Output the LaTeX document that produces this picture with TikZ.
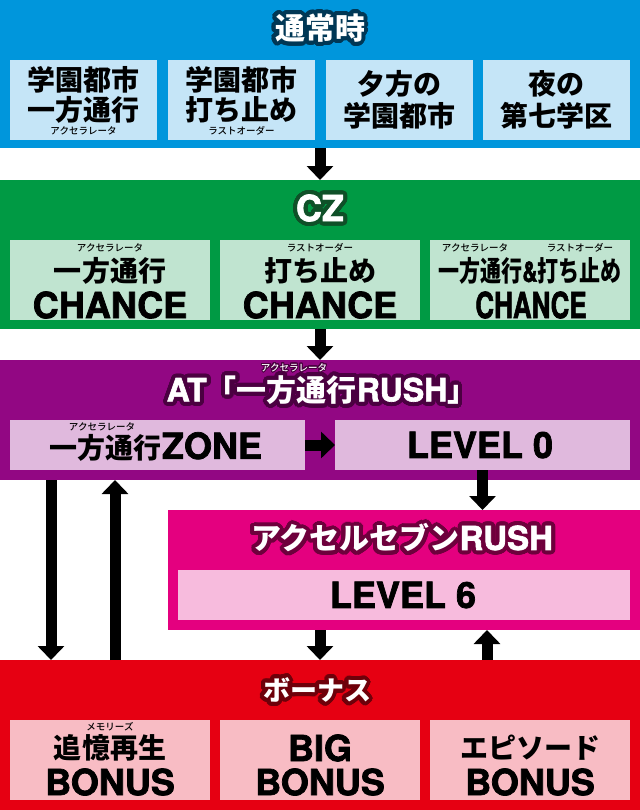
\documentclass[tikz,border=0pt]{standalone}
\usepackage{fontspec}
\newfontfamily\jp{Noto Sans CJK JP}[UprightFont=* Black]
\newfontfamily\jpm{Noto Sans CJK JP}[UprightFont=* Medium]
\newfontfamily\lat{texgyreheros-bold.otf}[FakeBold=2]
\usepackage[copies]{contour}
\contourlength{4bp}
\contournumber{32}
\usetikzlibrary{arrows.meta}
\definecolor{cBlue}{RGB}{0,150,220}
\definecolor{cBlueBox}{RGB}{197,229,247}
\definecolor{cBlueOut}{RGB}{0,55,85}
\definecolor{cGreen}{RGB}{0,154,68}
\definecolor{cGreenBox}{RGB}{192,228,208}
\definecolor{cGreenOut}{RGB}{15,80,40}
\definecolor{cPurple}{RGB}{146,7,131}
\definecolor{cPurpleBox}{RGB}{224,185,221}
\definecolor{cPurpleOut}{RGB}{75,0,65}
\definecolor{cPink}{RGB}{228,0,127}
\definecolor{cPinkBox}{RGB}{247,187,221}
\definecolor{cPinkOut}{RGB}{110,0,60}
\definecolor{cRed}{RGB}{230,0,18}
\definecolor{cRedBox}{RGB}{248,188,196}
\definecolor{cRedOut}{RGB}{110,0,10}
\tikzset{
  sec/.style={rectangle, inner sep=0pt, outer sep=0pt},
  box/.style={rectangle, inner sep=0pt, outer sep=0pt},
  jtxt/.style={inner sep=0pt, font=\jp\fontsize{28bp}{30bp}\selectfont},
  ltxt/.style={inner sep=0pt, font=\lat\fontsize{36bp}{38bp}\selectfont},
  ruby/.style={inner sep=0pt, font=\jpm\fontsize{9.5bp}{10bp}\selectfont},
  ttl/.style={inner sep=0pt, text=white, font=\jp\fontsize{30bp}{32bp}\selectfont},
  arr/.style={line width=11bp, -{Triangle[width=26bp,length=14bp]}},
}
\begin{document}
\begin{tikzpicture}[x=1bp,y=-1bp]
\useasboundingbox (0,0) rectangle (640,810);
% sections
\node[sec, fill=cBlue, minimum width=640bp, minimum height=148bp] (blue) at (320,74) {};
\node[sec, fill=cGreen, minimum width=640bp, minimum height=149bp] (green) at (320,254.5) {};
\node[sec, fill=cPurple, minimum width=640bp, minimum height=120bp] (purple) at (320,420) {};
\node[sec, fill=cPink, minimum width=472bp, minimum height=120bp] (pink) at (404,570) {};
\node[sec, fill=cRed, minimum width=640bp, minimum height=150bp] (red) at (320,735) {};
% blue boxes
\foreach \n/\x in {b1/83.5,b2/241.5,b3/399.5,b4/556.5}
  \node[box, fill=cBlueBox, minimum width=147bp, minimum height=80bp] (\n) at (\x,100) {};
% green boxes
\foreach \n/\x in {g1/110,g2/320,g3/530}
  \node[box, fill=cGreenBox, minimum width=200bp, minimum height=80bp] (\n) at (\x,280) {};
% purple boxes
\node[box, fill=cPurpleBox, minimum width=295bp, minimum height=50bp] (zone) at (157.5,445) {};
\node[box, fill=cPurpleBox, minimum width=295bp, minimum height=50bp] (lv0) at (482.5,445) {};
% pink box
\node[box, fill=cPinkBox, minimum width=452bp, minimum height=50bp] (lv6) at (404,595) {};
% red boxes
\foreach \n/\x in {r1/110,r2/320,r3/530}
  \node[box, fill=cRedBox, minimum width=200bp, minimum height=80bp] (\n) at (\x,760) {};

% titles
\node[ttl] (t1) at (320,30) {\contour{cBlueOut}{通常時}};
\node[ttl, font=\lat\fontsize{36bp}{38bp}\selectfont] (t2) at (320,210) {\contour{cGreenOut}{CZ}};
\node[ruby, text=white] (t3r) at (294,368) {\contourlength{1bp}\contour{cPurpleOut}{アクセラレータ}};
\node[ttl] (t3) at (322,392) {\contour{cPurpleOut}{{\lat\fontsize{32bp}{34bp}\selectfont AT}「一方通行{\lat\fontsize{32bp}{34bp}\selectfont RUSH}」}};
\node[ttl] (t4) at (402,540) {\contour{cPinkOut}{アクセルセブン{\lat\fontsize{33bp}{34bp}\selectfont RUSH}}};
\node[ttl, font=\jp\fontsize{27bp}{30bp}\selectfont] (t5) at (317,692) {\contour{cRedOut}{ボーナス}};

% blue texts
\node[jtxt] (b1a) at (83.5,80) {学園都市};
\node[jtxt] (b1b) at (83.5,110) {一方通行};
\node[ruby] (b1r) at (83.5,131) {アクセラレータ};
\node[jtxt] (b2a) at (241.5,80) {学園都市};
\node[jtxt] (b2b) at (241.5,110) {打ち止め};
\node[ruby] (b2r) at (241.5,131) {ラストオーダー};
\node[jtxt] (b3a) at (399.5,84) {夕方の};
\node[jtxt] (b3b) at (399.5,116) {学園都市};
\node[jtxt] (b4a) at (556.5,84) {夜の};
\node[jtxt] (b4b) at (556.5,116) {第七学区};

% green texts
\node[ruby] (g1r) at (110,248) {アクセラレータ};
\node[jtxt] (g1a) at (110,271) {一方通行};
\node[ltxt] (g1b) at (110,305) {CHANCE};
\node[ruby] (g2r) at (320,248) {ラストオーダー};
\node[jtxt] (g2a) at (320,271) {打ち止め};
\node[ltxt] (g2b) at (320,305) {CHANCE};
\node[ruby] (g3r1) at (475,248) {アクセラレータ};
\node[ruby] (g3r2) at (580,248) {ラストオーダー};
\node[jtxt] (g3a) at (530,271) {\scalebox{0.75}[1]{一方通行{\lat\&}打ち止め}};
\node[ltxt] (g3b) at (531,305) {\scalebox{0.72}[1]{CHANCE}};

% purple texts
\node[ruby] (zr) at (102,427) {アクセラレータ};
\node[jtxt] (za) at (156,447) {一方通行{\lat\fontsize{36bp}{38bp}\selectfont ZONE}};
\node[ltxt] (l0) at (480,445) {LEVEL 0};
% pink text
\node[ltxt] (l6) at (403,595) {LEVEL 6};
% red texts
\node[ruby] (r1r) at (110,727) {メモリーズ};
\node[jtxt] (r1a) at (110,748) {追憶再生};
\node[ltxt] (r1b) at (110,782) {BONUS};
\node[ltxt] (r2a) at (320,748) {BIG};
\node[ltxt] (r2b) at (320,782) {BONUS};
\node[jtxt] (r3a) at (530,748) {エピソード};
\node[ltxt] (r3b) at (530,782) {BONUS};

% arrows
\coordinate (lx1) at (51,0);
\coordinate (lx2) at (115,0);
\coordinate (rx) at (487,0);
\draw[arr] (blue.south) -- (green.north);
\draw[arr] (green.south) -- (purple.north);
\draw[arr] (zone.east) -- (lv0.west);
\draw[arr] (lv0.south) -- (lv0.south |- pink.north);
\draw[arr] (purple.south -| lx1) -- (red.north -| lx1);
\draw[arr] (red.north -| lx2) -- (purple.south -| lx2);
\draw[arr] (pink.south -| blue.south) -- (red.north -| blue.south);
\draw[arr] (red.north -| rx) -- (pink.south -| rx);
\end{tikzpicture}
\end{document}
